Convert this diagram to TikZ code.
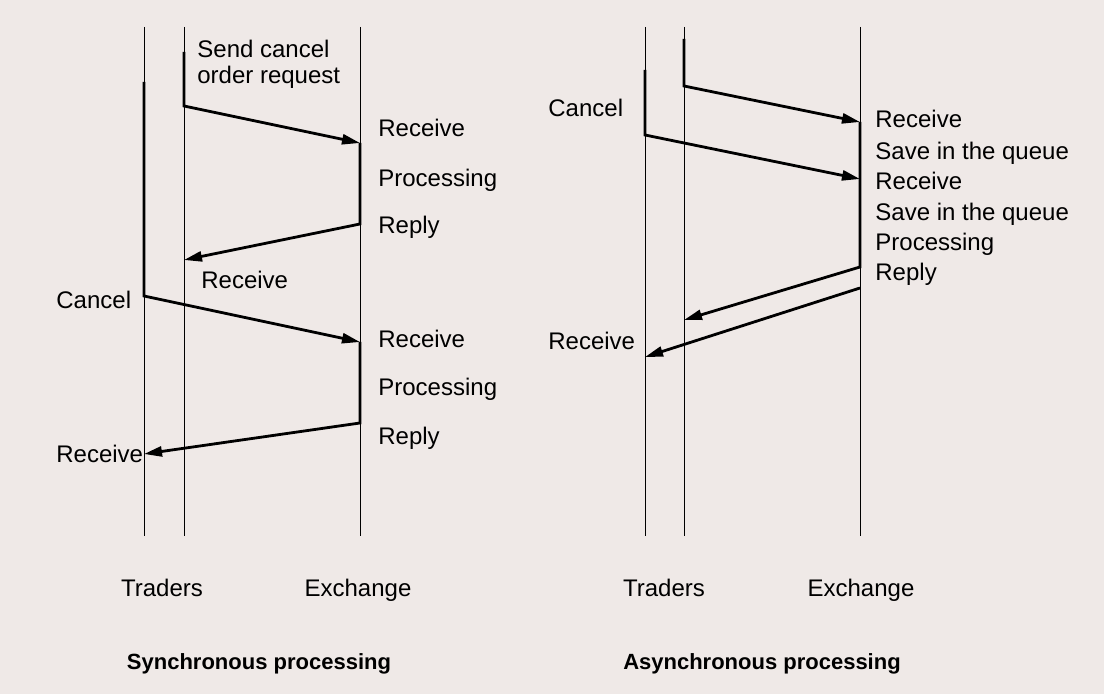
\documentclass[tikz,border=0pt]{standalone}
\usepackage{fontspec}
\setmainfont{Liberation Sans}
\usetikzlibrary{arrows.meta,positioning}
\definecolor{paper}{RGB}{239,233,231}

\begin{document}
\begin{tikzpicture}[x=0.5pt, y=-0.5pt,
  life/.style = {line width=0.5pt},
  busy/.style = {line width=1.4pt},
  msg/.style = {line width=1.4pt, -{Triangle[length=9pt,width=5pt]}},
  lbl/.style = {anchor=base west, inner sep=0pt, font=\fontsize{12}{13}\selectfont},
  who/.style = {anchor=base, inner sep=0pt, font=\fontsize{12}{13}\selectfont},
  caption/.style = {anchor=base, inner sep=0pt, font=\fontsize{11}{13}\selectfont\bfseries}]
\fill[paper] (0,0) rectangle (1104,694);
\useasboundingbox (0,0) rectangle (1104,694);

% synchronous side
\coordinate (sAtop) at (144,27);  \coordinate (sAbot) at (144,536);
\coordinate (sBtop) at (184,27);  \coordinate (sBbot) at (184,536);
\coordinate (sEtop) at (360,27);  \coordinate (sEbot) at (360,536);
\draw[life] (sAtop) -- (sAbot);
\draw[life] (sBtop) -- (sBbot);
\draw[life] (sEtop) -- (sEbot);

\coordinate (sb1) at (184,52);  \coordinate (sb2) at (184,106);
\coordinate (se1) at (360,143); \coordinate (se2) at (360,224);
\coordinate (sb3) at (184,260);
\coordinate (sa1) at (144,82);  \coordinate (sa2) at (144,296);
\coordinate (se3) at (360,342); \coordinate (se4) at (360,423);
\coordinate (sa3) at (144,454);
\draw[msg] (sb1) -- (sb2) -- (se1);
\draw[msg] (se1) -- (se2) -- (sb3);
\draw[msg] (sa1) -- (sa2) -- (se3);
\draw[msg] (se3) -- (se4) -- (sa3);

\node[lbl, anchor=west, align=left] (send) at (197,64) {Send cancel\\order request};
\node[lbl] (srecv1) at (378,137) {Receive};
\node[lbl] (sproc1) at (378,187) {Processing};
\node[lbl] (sreply1) at (378,234) {Reply};
\node[lbl] (sback1) at (201,289) {Receive};
\node[lbl] (scancel) at (56,309) {Cancel};
\node[lbl] (srecv2) at (378,348) {Receive};
\node[lbl] (sproc2) at (378,396) {Processing};
\node[lbl] (sreply2) at (378,445) {Reply};
\node[lbl] (sback2) at (56,463) {Receive};
\node[who] (strad) at (162,597) {Traders};
\node[who] (sexch) at (358,597) {Exchange};
\node[caption] (sync) at (259,670) {Synchronous processing};

% asynchronous side
\coordinate (aCtop) at (645,27);  \coordinate (aCbot) at (645,536);
\coordinate (aDtop) at (684,27);  \coordinate (aDbot) at (684,536);
\coordinate (aEtop) at (860,27);  \coordinate (aEbot) at (860,536);
\draw[life] (aCtop) -- (aCbot);
\draw[life] (aDtop) -- (aDbot);
\draw[life] (aEtop) -- (aEbot);

\coordinate (ad1) at (684,39);  \coordinate (ad2) at (684,86);
\coordinate (ae1) at (860,122);
\coordinate (ac1) at (645,70);  \coordinate (ac2) at (645,135);
\coordinate (ae2) at (860,179); \coordinate (ae3) at (860,267);
\coordinate (ad3) at (684,320);
\coordinate (ae4) at (860,288); \coordinate (ac3) at (645,357);
\draw[msg] (ad1) -- (ad2) -- (ae1);
\draw[msg] (ac1) -- (ac2) -- (ae2);
\draw[msg] (ae1) -- (ae3) -- (ad3);
\draw[msg] (ae4) -- (ac3);

\node[lbl] (acancel) at (548,117) {Cancel};
\node[lbl] (aback) at (548,350) {Receive};
\node[lbl] (arecv1) at (875,128) {Receive};
\node[lbl] (asave1) at (875,160) {Save in the queue};
\node[lbl] (arecv2) at (875,190) {Receive};
\node[lbl] (asave2) at (875,221) {Save in the queue};
\node[lbl] (aproc) at (875,251) {Processing};
\node[lbl] (areply) at (875,281) {Reply};
\node[who] (atrad) at (664,597) {Traders};
\node[who] (aexch) at (861,597) {Exchange};
\node[caption] (async) at (762,670) {Asynchronous processing};
\end{tikzpicture}
\end{document}
